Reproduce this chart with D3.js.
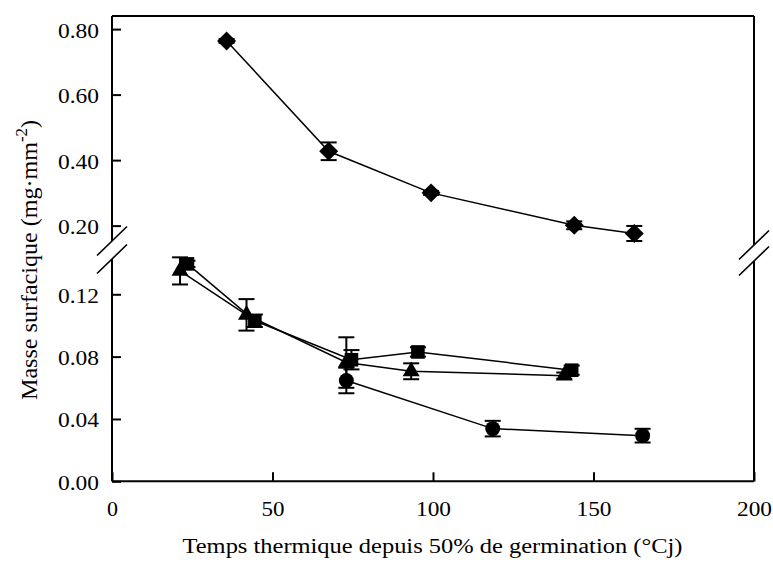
<!DOCTYPE html>
<html><head><meta charset="utf-8">
<script src="https://cdn.jsdelivr.net/npm/d3@7"></script>
<style>body{margin:0;background:#fff}svg{display:block} text{font-family:"Liberation Serif","Times New Roman","DejaVu Serif",serif}</style>
</head><body>
<script>
// Data
const diamondX = [35.7, 67.5, 99.4, 144.0, 162.7];
const diamondY = [0.764, 0.427, 0.300, 0.201, 0.176];
const diamondE = [0.006, 0.027, 0.006, 0.012, 0.023];

const squareX = [23.5, 44.5, 74.6, 95.3, 143.2];
const squareY = [0.1395, 0.103, 0.078, 0.083, 0.0713];
const squareE = [0.002, 0.004, 0.0062, 0.003, 0.003];

const triangleX = [21.2, 41.9, 73.0, 93.2, 140.9];
const triangleY = [0.135, 0.1068, 0.0762, 0.0706, 0.0678];
const triangleE = [0.0087, 0.0101, 0.0162, 0.0051, 0.002];

const circleX = [73.0, 118.6, 165.3];
const circleY = [0.0647, 0.0338, 0.0293];
const circleE = [0.0082, 0.005, 0.0044];

const xTicks = [0, 50, 100, 150, 200];
const upperTicks = [0.20, 0.40, 0.60, 0.80];
const lowerTicks = [0.00, 0.04, 0.08, 0.12];

const W = 773, H = 562;
const pL = 112, pR = 754, pT = 16, pB = 481.3;
const upBottom = 242, lowTop = 260;
const stretch = 1.2;
const FS = 20;

const svg = d3.select("body").append("svg").attr("width", W).attr("height", H);

const x = d3.scaleLinear().domain([0, 200]).range([pL, pR]);
const yU = d3.scaleLinear().domain([0.15, 0.84]).range([upBottom, pT]);
const yL = d3.scaleLinear().domain([0, 0.142]).range([pB, lowTop]);

// Frame
const fr = svg.append("g").attr("stroke", "#000").attr("stroke-width", 2).attr("fill", "none");
fr.append("line").attr("x1", pL).attr("x2", pR).attr("y1", pT).attr("y2", pT);
fr.append("line").attr("x1", pL).attr("x2", pR).attr("y1", pB).attr("y2", pB);
fr.append("line").attr("x1", pL).attr("x2", pL).attr("y1", pT).attr("y2", upBottom - 1);
fr.append("line").attr("x1", pL).attr("x2", pL).attr("y1", lowTop - 1).attr("y2", pB);
fr.append("line").attr("x1", pR).attr("x2", pR).attr("y1", pT).attr("y2", upBottom + 3);
fr.append("line").attr("x1", pR).attr("x2", pR).attr("y1", lowTop + 1).attr("y2", pB);

// break slashes
const br = svg.append("g").attr("stroke", "#000").attr("stroke-width", 1.6);
[[pL, upBottom - 1], [pL, lowTop - 1], [pR, upBottom + 3], [pR, lowTop + 1]].forEach(([cx, cy]) => {
  br.append("line").attr("x1", cx - 15).attr("y1", cy + 14.5).attr("x2", cx + 15).attr("y2", cy - 14.5);
});

// Axes
const xAxis = d3.axisBottom(x).tickValues(xTicks).tickSizeInner(-9).tickSizeOuter(0).tickFormat(d3.format("d"));
const gx = svg.append("g").attr("transform", `translate(0,${pB})`).call(xAxis);
const yAxU = d3.axisLeft(yU).tickValues(upperTicks).tickSizeInner(-9).tickSizeOuter(0).tickPadding(13).tickFormat(d3.format(".2f"));
const gyU = svg.append("g").attr("transform", `translate(${pL},0)`).call(yAxU);
const yAxL = d3.axisLeft(yL).tickValues(lowerTicks).tickSizeInner(-9).tickSizeOuter(0).tickPadding(13).tickFormat(d3.format(".2f"));
const gyL = svg.append("g").attr("transform", `translate(${pL},0)`).call(yAxL);
[gx, gyU, gyL].forEach(g => {
  g.attr("font-family", null).attr("font-size", null);
  g.select(".domain").remove();
  g.selectAll(".tick line").attr("stroke", "#000").attr("stroke-width", 2);
  g.selectAll(".tick text").attr("font-size", FS).attr("fill", "#000");
});
gx.selectAll(".tick text").attr("y", 34.7).attr("dy", 0);
gyU.selectAll(".tick text").attr("dy", "0.4em");
gyL.selectAll(".tick text").attr("dy", "0.4em");

// Axis labels
const xl = svg.append("text").attr("x", 432.5).attr("y", 553.3).attr("text-anchor", "middle")
  .attr("font-size", FS).text("Temps thermique depuis 50% de germination (°Cj)");
const yl = svg.append("text").attr("transform", `translate(37,260) scale(${stretch},1) rotate(-90)`)
  .attr("text-anchor", "middle").attr("font-size", FS);
yl.append("tspan").text("Masse surfacique (mg·mm");
yl.append("tspan").attr("dy", -8).attr("font-size", 14).text("-2");
yl.append("tspan").attr("dy", 8).text(")");

// widths matching Times metrics, horizontally stretched
svg.selectAll(".tick text").each(function () {
  const t = this.textContent;
  const digits = t.replace(/[^0-9]/g, "").length;
  const dots = t.length - digits;
  const w = (digits * 0.5 + dots * 0.25) * FS * stretch - 1;
  d3.select(this).attr("textLength", w).attr("lengthAdjust", "spacingAndGlyphs");
});
xl.attr("textLength", 500).attr("lengthAdjust", "spacingAndGlyphs");
yl.attr("textLength", 280).attr("lengthAdjust", "spacingAndGlyphs");

// Series drawing
function series(xs, ys, es, yScale, shape, size) {
  const pts = xs.map((v, i) => ({ x: v, y: ys[i], e: es[i] }));
  const g = svg.append("g");
  g.append("path").datum(pts)
    .attr("d", d3.line().x(d => x(d.x)).y(d => yScale(d.y)))
    .attr("fill", "none").attr("stroke", "#000").attr("stroke-width", 1.5);
  const eb = g.selectAll(".eb").data(pts).enter().append("g").attr("stroke", "#000").attr("stroke-width", 2);
  eb.append("line").attr("x1", d => x(d.x)).attr("x2", d => x(d.x))
    .attr("y1", d => yScale(d.y - d.e)).attr("y2", d => yScale(d.y + d.e));
  [-1, 1].forEach(s => {
    eb.append("line").attr("x1", d => x(d.x) - 8).attr("x2", d => x(d.x) + 8)
      .attr("y1", d => yScale(d.y + s * d.e)).attr("y2", d => yScale(d.y + s * d.e));
  });
  g.selectAll(".pt").data(pts).enter().append("path")
    .attr("transform", d => `translate(${x(d.x)},${yScale(d.y)})`)
    .attr("d", d3.symbol().type(shape).size(size)).attr("fill", "#000");
}

const diamondShape = {
  draw(ctx, size) {
    const r = Math.sqrt(size / 2);
    ctx.moveTo(0, -r); ctx.lineTo(r, 0); ctx.lineTo(0, r); ctx.lineTo(-r, 0); ctx.closePath();
  }
};

series(circleX, circleY, circleE, yL, d3.symbolCircle, 175);
series(triangleX, triangleY, triangleE, yL, d3.symbolTriangle, 125);
series(squareX, squareY, squareE, yL, d3.symbolSquare, 185);
series(diamondX, diamondY, diamondE, yU, diamondShape, 180);
</script>
</body></html>
